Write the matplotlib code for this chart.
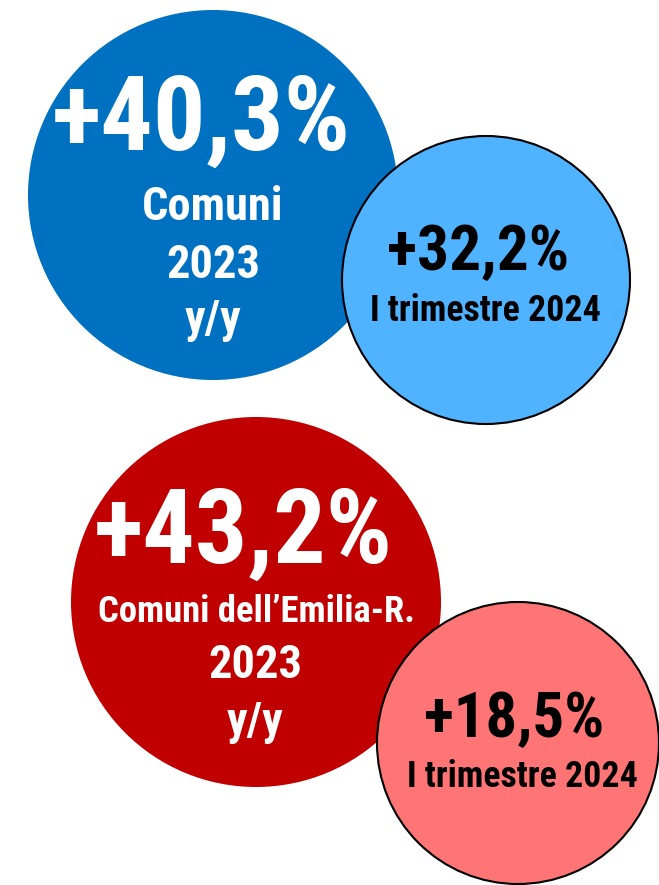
import matplotlib
matplotlib.use("Agg")
import matplotlib.pyplot as plt
from matplotlib.patches import Circle

# values shown in the bubbles
values = ["+40,3%", "+32,2%", "+43,2%", "+18,5%"]
sublabels = [["Comuni", "2023", "y/y"],
             ["I trimestre 2024"],
             ["Comuni dell\u2019Emilia-R.", "2023", "y/y"],
             ["I trimestre 2024"]]

# layout (pixels, y down)
centers = [(213, 195), (486, 280), (256, 602), (518, 743)]
radii = [185, 144, 185, 141]
fills = ["#0070C0", "#4FB3FF", "#C00000", "#FF7575"]
edges = [None, "black", None, "black"]
text_colors = ["white", "black", "white", "black"]
value_pos = [(201, 150, 74), (478, 270, 45), (243, 563, 74), (514, 737, 44.5)]
sub_pos = [[(213, 220, 33), (213, 278, 33), (213, 333, 33)],
           [(485, 321, 25.5)],
           [(256, 622, 26), (255, 678, 33), (255, 735, 33)],
           [(522, 787, 25.5)]]

fonts = ["Roboto Condensed", "Liberation Sans", "DejaVu Sans"]

fig = plt.figure(figsize=(6.59, 8.85), dpi=100)
ax = fig.add_axes([0, 0, 1, 1])
ax.set_xlim(0, 659)
ax.set_ylim(885, 0)
ax.set_aspect("equal")
ax.axis("off")

for i in range(len(values)):
    c = Circle(centers[i], radii[i], facecolor=fills[i],
               edgecolor=edges[i] if edges[i] else "none",
               linewidth=1.5, zorder=i + 1)
    ax.add_patch(c)
    x, y, cap = value_pos[i]
    # cap height in px -> font size in pt
    ax.text(x, y, values[i], ha="center", va="baseline", color=text_colors[i],
            fontsize=cap / 0.711 * 0.72, fontweight="bold", family=fonts, zorder=10)
    for lab, (sx, sy, scap) in zip(sublabels[i], sub_pos[i]):
        ax.text(sx, sy, lab, ha="center", va="baseline", color=text_colors[i],
                fontsize=scap / 0.711 * 0.72, fontweight="bold", family=fonts, zorder=10)

fig.savefig("out.png", dpi=100)
